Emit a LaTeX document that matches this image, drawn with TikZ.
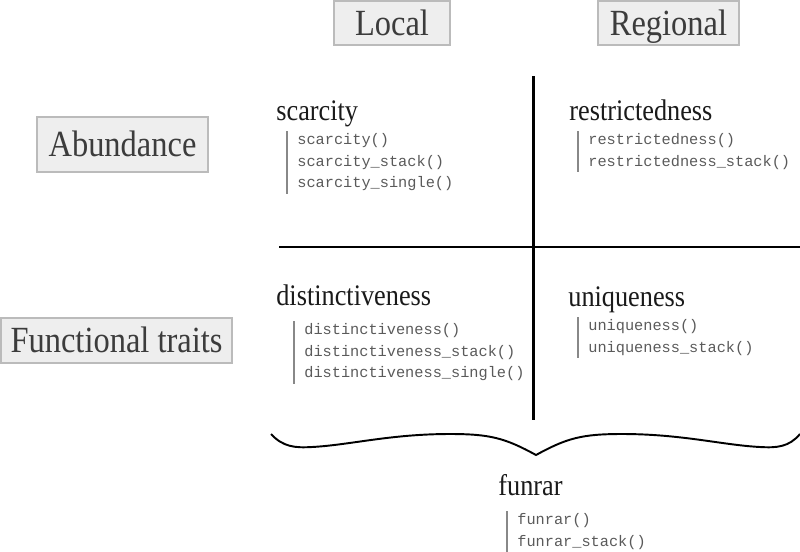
\documentclass[tikz,border=0pt]{standalone}
\usepackage{fontspec}
\setmainfont{Liberation Serif}[FakeStretch=0.88]
\setmonofont{Liberation Mono}

\definecolor{boxfill}{HTML}{EEEEEE}
\definecolor{boxline}{HTML}{BBBBBB}
\definecolor{labeltext}{HTML}{3C3C3C}
\definecolor{titletext}{HTML}{1A1A1A}
\definecolor{codetext}{HTML}{5A5A5A}
\definecolor{barline}{HTML}{888888}

\tikzset{
  scalebox/.style={draw=boxline, fill=boxfill, line width=1.1pt, text=labeltext,
    font=\fontsize{21}{24}\selectfont, inner sep=0pt, text height=14.7pt, text depth=1pt},
  measure/.style={text=titletext, font=\fontsize{17}{20}\selectfont, anchor=base west, inner sep=0pt},
  funlist/.style={text=codetext, font=\ttfamily\fontsize{8.7}{12.2}\selectfont, align=left,
    anchor=north west, inner xsep=0.2cm, inner ysep=0.05cm},
  fnbar/.style={draw=barline, line width=0.6pt},
  axisline/.style={line width=1.7pt, black},
  braceline/.style={line width=1.1pt, black}
}

\begin{document}
\begin{tikzpicture}[x=0.02cm, y=-0.02cm]
  \useasboundingbox (0,0) rectangle (800,551);

  % scale headers
  \node[scalebox, minimum width=2.32cm, minimum height=0.88cm] (local) at (392,23) {Local};
  \node[scalebox, minimum width=2.82cm, minimum height=0.88cm] (regional) at (668.5,23) {Regional};
  \node[scalebox, minimum width=3.42cm, minimum height=1.1cm] (abundance) at (122.5,144.5) {Abundance};
  \node[scalebox, minimum width=4.62cm, minimum height=0.9cm] (traits) at (116.5,340.5) {Functional traits};

  % quadrant axes
  \coordinate (vtop) at (533,76);
  \coordinate (vbot) at (533,420);
  \coordinate (hleft) at (279,247);
  \coordinate (hright) at (800,247);
  \draw[axisline] (vtop) -- (vbot);
  \draw[axisline] (hleft) -- (hright);

  % local / abundance
  \node[measure] (scarcity) at (276,120) {scarcity};
  \node[funlist] (scarcityfn) at (287,131) {scarcity()\\scarcity\_stack()\\scarcity\_single()};
  \draw[fnbar] (scarcityfn.north west) -- (scarcityfn.south west);

  % regional / abundance
  \node[measure] (restrictedness) at (569,120) {restrictedness};
  \node[funlist] (restrictednessfn) at (578,131) {restrictedness()\\restrictedness\_stack()};
  \draw[fnbar] (restrictednessfn.north west) -- (restrictednessfn.south west);

  % local / traits
  \node[measure] (distinctiveness) at (276,305) {distinctiveness};
  \node[funlist] (distinctivenessfn) at (294,321) {distinctiveness()\\distinctiveness\_stack()\\distinctiveness\_single()};
  \draw[fnbar] (distinctivenessfn.north west) -- (distinctivenessfn.south west);

  % regional / traits
  \node[measure] (uniqueness) at (568,306) {uniqueness};
  \node[funlist] (uniquenessfn) at (578,317) {uniqueness()\\uniqueness\_stack()};
  \draw[fnbar] (uniquenessfn.north west) -- (uniquenessfn.south west);

  % brace
  \draw[braceline] (271,434) .. controls (283,447) and (295,448) .. (312,447)
    .. controls (350,445) and (390,434) .. (450,434)
    .. controls (490,434) and (505,438) .. (536,455)
    .. controls (567,438) and (582,434) .. (622,434)
    .. controls (682,434) and (722,445) .. (760,447)
    .. controls (777,448) and (789,447) .. (800,434);

  % package
  \node[measure] (funrar) at (498,495) {funrar};
  \node[funlist] (funrarfn) at (507,511) {funrar()\\funrar\_stack()};
  \draw[fnbar] (funrarfn.north west) -- (funrarfn.south west);
\end{tikzpicture}
\end{document}
